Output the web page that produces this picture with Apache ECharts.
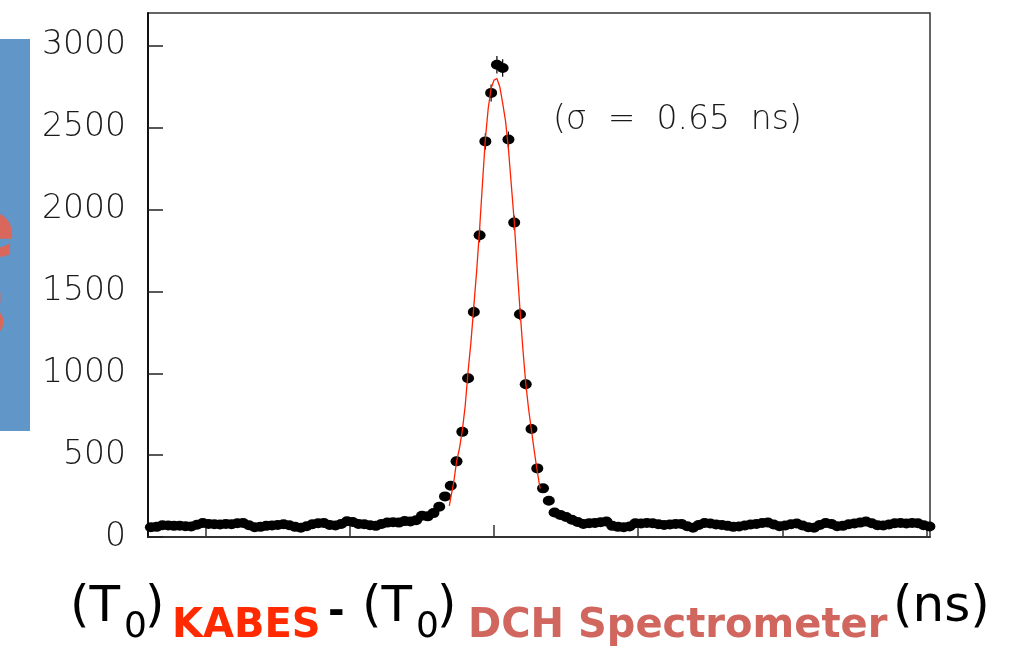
<!DOCTYPE html>
<html>
<head>
<meta charset="utf-8">
<title>T0 KABES - T0 DCH</title>
<script src="https://cdn.jsdelivr.net/npm/echarts@6/dist/echarts.min.js"></script>
<style>
  html, body { margin: 0; padding: 0; background: #ffffff; }
  #chart { width: 1022px; height: 649px; }
</style>
</head>
<body>
<div id="chart"></div>
<script>
// histogram: bin centres (ns) start at -11.9, 0.2 ns wide
var binStart = -11.9;
var binWidth = 0.2;
var counts = [
  60, 62, 72, 70, 68, 69, 66, 64, 75, 85,
  80, 78, 76, 80, 78, 84, 86, 72, 60, 62,
  68, 70, 74, 78, 72, 62, 56, 66, 78, 84,
  86, 74, 70, 80, 96, 92, 80, 78, 72, 68,
  80, 88, 90, 88, 97, 95, 102, 130, 126, 146,
  185, 248, 313, 462, 642, 970, 1374, 1843, 2416, 2712,
  2884, 2864, 2427, 1920, 1360, 933, 659, 419, 297, 221,
  150, 135, 122, 105, 92, 80, 84, 86, 90, 94,
  68, 62, 60, 64, 84, 82, 86, 84, 78, 74,
  76, 80, 80, 66, 56, 74, 86, 82, 76, 74,
  68, 62, 64, 70, 76, 80, 86, 88, 76, 66,
  70, 78, 82, 70, 60, 56, 74, 86, 80, 66,
  68, 78, 82, 88, 94, 84, 72, 70, 76, 84,
  86, 82, 86, 84, 72, 64
];

// gaussian fit curve
var fitX = [-1.55, -1.5, -1.4, -1.3, -1.2, -1.1, -1.0, -0.9, -0.8, -0.7,
  -0.6, -0.5, -0.4, -0.3, -0.2, -0.1, 0.0, 0.1, 0.2, 0.3,
  0.4, 0.5, 0.6, 0.7, 0.8, 0.9, 1.0, 1.1, 1.2, 1.3,
  1.4, 1.5, 1.6];
var fitY = [190, 240, 330, 460, 540, 650, 800, 1010, 1190, 1410,
  1630, 1880, 2160, 2430, 2620, 2740, 2790, 2800, 2750, 2650,
  2540, 2370, 2150, 1930, 1650, 1390, 1150, 940, 780, 650,
  520, 400, 295];

var xTicks = [-10, -5, 0, 5, 10, 15];
var yTicks = [0, 500, 1000, 1500, 2000, 2500, 3000];

var points = counts.map(function (c, i) {
  return [+(binStart + i * binWidth).toFixed(2), c];
});
var fitLine = fitX.map(function (x, i) { return [x, fitY[i]]; });

var chart = echarts.init(document.getElementById('chart'));

var option = {
  animation: false,
  backgroundColor: '#ffffff',
  grid: {
    left: 148,
    right: 92,
    top: 13,
    bottom: 112,
    show: true,
    borderColor: '#333',
    borderWidth: 1.5
  },
  xAxis: {
    type: 'value',
    min: -12,
    max: 15.12,
    axisLine: { show: true, onZero: false, lineStyle: { color: '#222', width: 1.5 } },
    axisTick: {
      show: true, inside: true, length: 12, customValues: xTicks,
      lineStyle: { color: '#333', width: 1.5 }
    },
    axisLabel: { show: false },
    splitLine: { show: false }
  },
  yAxis: {
    type: 'value',
    min: 0,
    max: 3200,
    axisLine: { show: true, onZero: false, lineStyle: { color: '#111', width: 2 } },
    axisTick: {
      show: true, inside: true, length: 15, customValues: yTicks,
      lineStyle: { color: '#222', width: 1.5 }
    },
    axisLabel: {
      customValues: yTicks,
      formatter: function (v) { return String(v); },
      margin: 22,
      color: '#1a1a1a',
      fontFamily: 'DejaVu Sans',
      fontWeight: 200,
      fontSize: 33
    },
    splitLine: { show: false }
  },
  series: [
    {
      type: 'custom',
      name: 'errors',
      data: points,
      z: 2,
      renderItem: function (params, api) {
        var x = api.value(0);
        var y = api.value(1);
        var e = Math.sqrt(y);
        var p1 = api.coord([x, y - e]);
        var p2 = api.coord([x, y + e]);
        return {
          type: 'line',
          shape: { x1: p1[0], y1: p1[1], x2: p2[0], y2: p2[1] },
          style: { stroke: '#000', lineWidth: 1.2 }
        };
      }
    },
    {
      type: 'scatter',
      name: 'data',
      data: points,
      symbol: 'circle',
      symbolSize: [12, 10],
      itemStyle: { color: '#000', opacity: 1 },
      z: 3
    },
    {
      type: 'line',
      name: 'fit',
      data: fitLine,
      showSymbol: false,
      smooth: false,
      lineStyle: { color: '#ff2200', width: 1.3 },
      z: 4
    }
  ],
  graphic: [
    {
      type: 'rect',
      shape: { x: 0, y: 39, width: 30, height: 392 },
      style: { fill: '#6196c9' },
      z: 1
    },
    {
      type: 'text', x: 16, y: 236,
      style: { text: 'e', fill: '#d9675c', font: 'bold 80px "DejaVu Sans"', align: 'right', verticalAlign: 'middle' },
      z: 2
    },
    {
      type: 'text', x: 7, y: 314,
      style: { text: 's', fill: '#d9675c', font: 'bold 80px "DejaVu Sans"', align: 'right', verticalAlign: 'middle' },
      z: 2
    },
    {
      type: 'text', x: 553, y: 120,
      style: { text: '(σ  =  0.65  ns)', fill: '#1a1a1a', font: '200 33px "DejaVu Sans"', align: 'left', verticalAlign: 'middle' }
    },
    // x axis title pieces
    { type: 'text', x: 70, y: 608,
      style: { text: '(T', fill: '#000', font: '50px "DejaVu Sans"', verticalAlign: 'middle' } },
    { type: 'text', x: 124, y: 628,
      style: { text: '0', fill: '#000', font: '36px "DejaVu Sans"', verticalAlign: 'middle' } },
    { type: 'text', x: 145, y: 608,
      style: { text: ')', fill: '#000', font: '50px "DejaVu Sans"', verticalAlign: 'middle' } },
    { type: 'text', x: 172, y: 627,
      style: { text: 'KABES', fill: '#ff2a00', font: 'bold 40px "DejaVu Sans"', verticalAlign: 'middle' } },
    { type: 'text', x: 328, y: 614,
      style: { text: '-', fill: '#000', font: 'bold 40px "DejaVu Sans"', verticalAlign: 'middle' } },
    { type: 'text', x: 362, y: 608,
      style: { text: '(T', fill: '#000', font: '50px "DejaVu Sans"', verticalAlign: 'middle' } },
    { type: 'text', x: 416, y: 628,
      style: { text: '0', fill: '#000', font: '36px "DejaVu Sans"', verticalAlign: 'middle' } },
    { type: 'text', x: 437, y: 608,
      style: { text: ')', fill: '#000', font: '50px "DejaVu Sans"', verticalAlign: 'middle' } },
    { type: 'text', x: 468, y: 627,
      style: { text: 'DCH Spectrometer', fill: '#d0665e', font: 'bold 40px "DejaVu Sans"', verticalAlign: 'middle' } },
    { type: 'text', x: 893, y: 608,
      style: { text: '(ns)', fill: '#000', font: '50px "DejaVu Sans"', verticalAlign: 'middle' } }
  ]
};

chart.setOption(option);
</script>
</body>
</html>
